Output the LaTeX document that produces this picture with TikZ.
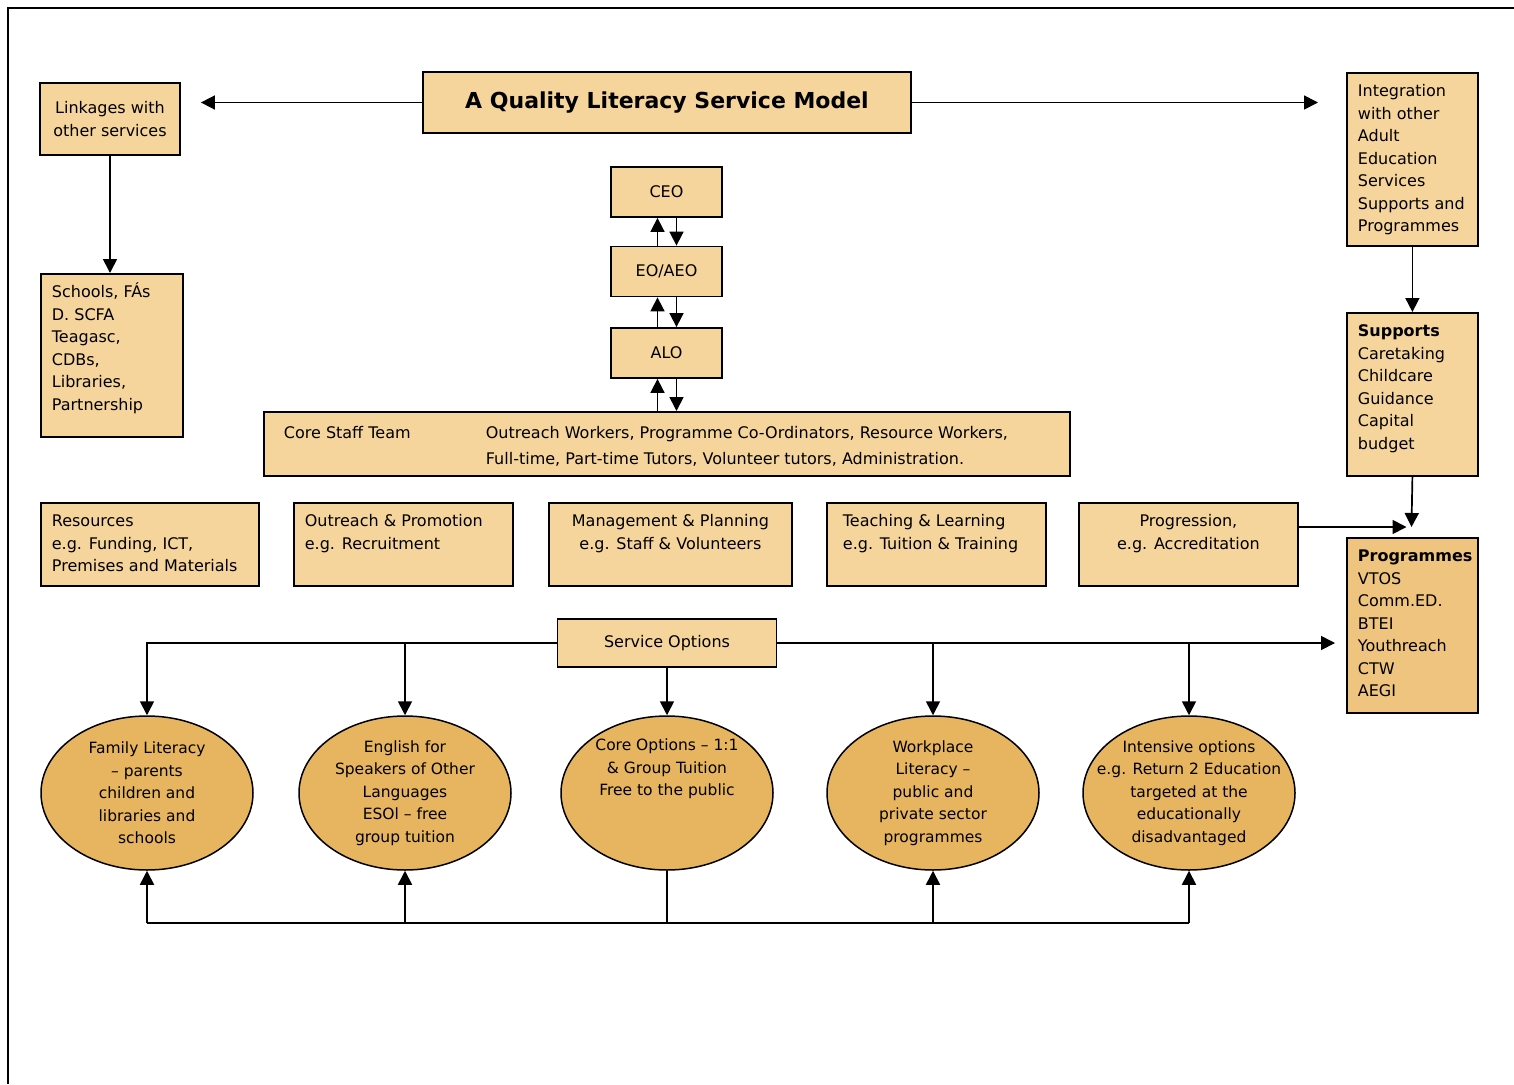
\documentclass[tikz,border=0pt]{standalone}
\usepackage{fontspec}
\setmainfont{DejaVu Sans}
\usepackage{tikz}
\usetikzlibrary{positioning,arrows.meta,shapes.geometric}

\definecolor{boxfill}{HTML}{F5D59C}
\definecolor{progfill}{HTML}{EFC47F}
\definecolor{ovalfill}{HTML}{E7B560}

% text block of a box, given the full box width and height
\newcommand{\boxbody}[3]{\parbox[t][\dimexpr#2pt-16pt\relax][t]{\dimexpr#1pt-22pt\relax}{\strut#3}}

\begin{document}
\begin{tikzpicture}[x=1pt,y=-1pt,
panel/.style={draw,line width=1.8pt,fill=boxfill,
inner xsep=11pt,inner ysep=8pt,anchor=north west,
font=\fontsize{16}{22.5}\selectfont},
rank/.style={draw,line width=1.8pt,fill=boxfill,
inner sep=2pt,align=center,
font=\fontsize{16}{22.5}\selectfont},
oval/.style={ellipse,draw,line width=1.5pt,fill=ovalfill,
minimum width=212pt,minimum height=154pt,
inner xsep=-45pt,inner ysep=-30pt,
align=center,font=\fontsize{15.5}{22.5}\selectfont},
arr/.style={-{Triangle[length=14pt,width=14pt]},line width=1.7pt},
line/.style={line width=1.7pt}]

\useasboundingbox (0,0) rectangle (1514,1084);
\draw[line width=2.8pt] (8,1084) -- (8,8) -- (1514,8);

% top row
\node[rank,minimum width=488pt,minimum height=61pt,
font=\fontsize{22}{26}\selectfont\bfseries] (title) at (667,102.5)
{A Quality Literacy Service Model};
\node[rank,minimum width=140pt,minimum height=72pt] (link) at (110,119)
{Linkages with\\other services};
\node[panel] (integ) at (1346,72)
{\boxbody{131}{173}{Integration\\with other\\Adult\\Education\\Services\\Supports and\\Programmes}};
\node[panel] (schools) at (40,273)
{\boxbody{142}{163}{Schools, FÁs\\D. SCFA\\Teagasc,\\CDBs,\\Libraries,\\Partnership}};

% management line
\node[rank,minimum width=111pt,minimum height=50pt] (ceo) at (666.5,192) {CEO};
\node[rank,minimum width=111pt,minimum height=50pt] (eo) at (666.5,271.5) {EO/AEO};
\node[rank,minimum width=111pt,minimum height=50pt] (alo) at (666.5,353) {ALO};
\node[panel,font=\fontsize{16}{26}\selectfont] (staff) at (263,411)
{\boxbody{806}{64}{\hspace*{9pt}\makebox[202pt][l]{Core Staff Team}Outreach Workers, Programme Co-Ordinators, Resource Workers,\\
\hspace*{211pt}Full-time, Part-time Tutors, Volunteer tutors, Administration.}};

% right column
\node[panel] (supp) at (1346,312)
{\boxbody{131}{163}{\textbf{Supports}\\Caretaking\\Childcare\\Guidance\\Capital\\budget}};
\node[panel,fill=progfill] (progs) at (1346,537)
{\boxbody{131}{175}{\textbf{Programmes}\\VTOS\\Comm.ED.\\BTEI\\Youthreach\\CTW\\AEGI}};
\coordinate (junc) at (1411.5,527);

% quality areas
\node[panel] (res) at (40,502)
{\boxbody{218}{83}{Resources\\e.g. Funding, ICT,\\Premises and Materials}};
\node[panel] (outr) at (293,502)
{\boxbody{219}{83}{Outreach \& Promotion\\e.g. Recruitment}};
\node[panel] (mgmt) at (548,502)
{\boxbody{243}{83}{\centering Management \& Planning\\e.g. Staff \& Volunteers}};
\node[panel] (teach) at (826,502)
{\boxbody{219}{83}{\hspace*{5pt}Teaching \& Learning\\\hspace*{5pt}e.g. Tuition \& Training}};
\node[panel] (progn) at (1078,502)
{\boxbody{219}{83}{\centering Progression,\\e.g. Accreditation}};

% service options
\node[rank,minimum width=219pt,minimum height=48pt] (svc) at (667,643) {Service Options};
\node[oval] (fam) at (147,793)
{Family Literacy\\– parents\\children and\\libraries and\\schools};
\node[oval] (eng) at (405,793)
{English for\\Speakers of Other\\Languages\\ESOl – free\\group tuition};
\node[oval] (coreopt) at (667,793)
{Core Options – 1:1\\\& Group Tuition\\Free to the public\\\strut\\\strut};
\node[oval] (work) at (933,793)
{Workplace\\Literacy –\\public and\\private sector\\programmes};
\node[oval] (inten) at (1189,793)
{Intensive options\\e.g. Return 2 Education\\targeted at the\\educationally\\disadvantaged};
\coordinate (base) at (667,923);

% connectors
\draw[arr,shorten >=20pt] (title.west) -- (title.west -| link.east);
\draw[arr,shorten >=28pt] (title.east) -- (title.east -| integ.west);
\draw[arr] (link.south) -- (link.south |- schools.north);
\draw[arr] ([xshift=-9pt]eo.north) -- ([xshift=-9pt]ceo.south);
\draw[arr] ([xshift=10pt]ceo.south) -- ([xshift=10pt]eo.north);
\draw[arr] ([xshift=-9pt]alo.north) -- ([xshift=-9pt]eo.south);
\draw[arr] ([xshift=10pt]eo.south) -- ([xshift=10pt]alo.north);
\draw[arr] ([xshift=-9pt]alo.south |- staff.north) -- ([xshift=-9pt]alo.south);
\draw[arr] ([xshift=10pt]alo.south) -- ([xshift=10pt]alo.south |- staff.north);
\draw[arr] (integ.south) -- (supp.north);
\draw[arr] (supp.south) -- (junc);
\draw[arr,shorten >=5pt] (progn.east |- junc) -- (junc);

\draw[arr] (svc.west) -| (fam.north);
\draw[arr] (svc.west -| eng.north) -- (eng.north);
\draw[arr] (svc.south) -- (coreopt.north);
\draw[arr,shorten >=11pt] (svc.east) -- (svc.east -| progs.west);
\draw[arr] (svc.east -| work.north) -- (work.north);
\draw[arr] (svc.east -| inten.north) -- (inten.north);

\draw[line] (coreopt.south) -- (coreopt.south |- base);
\draw[line] (fam.south |- base) -- (inten.south |- base);
\foreach \e in {fam,eng,work,inten}
\draw[arr] (\e.south |- base) -- (\e.south);
\end{tikzpicture}
\end{document}
